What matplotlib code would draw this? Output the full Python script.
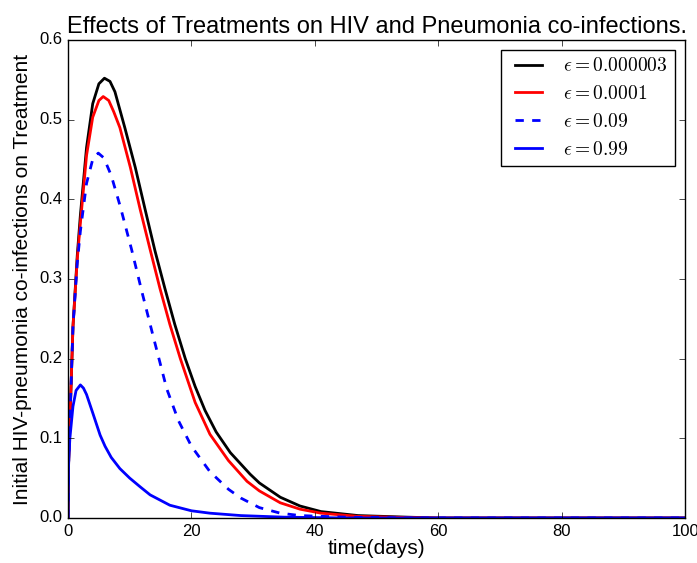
import numpy as np
import matplotlib
matplotlib.use("Agg")
import matplotlib.pyplot as plt

plt.style.use("classic")
plt.rcParams["font.family"] = ["Liberation Sans", "DejaVu Sans"]
plt.rcParams["mathtext.fontset"] = "cm"

# values
t_black = [0, 0.1, 0.3, 0.8, 1.5, 2, 3, 4, 5, 5.9, 6.8, 7.6, 9.2, 10.9, 12.5, 14.1, 15.7,
           17.3, 19, 20.6, 22.2, 24, 26.3, 29.5, 31, 34.4, 37.6, 41, 47, 55, 60, 100]
y_black = [0, 0.07, 0.12, 0.24, 0.33, 0.38, 0.465, 0.52, 0.545, 0.552, 0.548, 0.535, 0.49,
           0.44, 0.387, 0.335, 0.288, 0.243, 0.2, 0.165, 0.135, 0.108, 0.082, 0.055, 0.044,
           0.026, 0.015, 0.008, 0.003, 0.001, 0, 0]

t_red = [0, 0.1, 0.3, 0.8, 1.5, 2, 3, 4, 5, 5.7, 6.6, 7.4, 8.4, 10.1, 11.7, 13.3, 14.9,
         16.5, 18.2, 20.6, 23, 26, 29, 31, 34.4, 37.6, 41, 47, 55, 60, 100]
y_red = [0, 0.07, 0.12, 0.24, 0.325, 0.37, 0.455, 0.503, 0.524, 0.529, 0.524, 0.51, 0.49,
         0.44, 0.387, 0.337, 0.288, 0.243, 0.2, 0.145, 0.105, 0.072, 0.046, 0.034, 0.019,
         0.011, 0.006, 0.002, 0.0005, 0, 0]

t_dash = [0, 0.1, 0.3, 0.8, 1.5, 2, 3, 4, 4.9, 5.8, 7, 8.5, 10.3, 12, 13.8, 16, 17.9, 20,
          23, 26, 28, 31, 34.4, 37.6, 45, 55, 100]
y_dash = [0, 0.07, 0.12, 0.24, 0.32, 0.36, 0.42, 0.45, 0.458, 0.452, 0.43, 0.39, 0.337,
          0.283, 0.228, 0.162, 0.122, 0.09, 0.058, 0.036, 0.025, 0.013, 0.006, 0.003,
          0.001, 0, 0]

t_blue = [0, 0.1, 0.3, 0.8, 1.3, 2, 2.5, 3, 4, 5.2, 6, 7, 8.4, 10, 11.7, 13.3, 16.5, 20,
          23, 28, 35, 45, 100]
y_blue = [0, 0.07, 0.10, 0.14, 0.16, 0.167, 0.163, 0.155, 0.132, 0.104, 0.09, 0.076,
          0.062, 0.05, 0.039, 0.029, 0.016, 0.009, 0.006, 0.003, 0.001, 0, 0]

labels = [r"$\epsilon=0.000003$", r"$\epsilon=0.0001$", r"$\epsilon=0.09$", r"$\epsilon=0.99$"]

fig = plt.figure(figsize=(6.97, 5.63), dpi=100, facecolor="white")
ax = fig.add_axes([0.0976, 0.080, 0.8854, 0.849])

ax.plot(t_black, y_black, color="k", lw=2, label=labels[0])
ax.plot(t_red, y_red, color="r", lw=2, label=labels[1])
ax.plot(t_dash, y_dash, color="b", lw=2, ls="--", label=labels[2])
ax.plot(t_blue, y_blue, color="b", lw=2, label=labels[3])

ax.set_xlim(0, 100)
ax.set_ylim(0, 0.6)
ax.set_xticks([0, 20, 40, 60, 80, 100])
ax.set_yticks([0.0, 0.1, 0.2, 0.3, 0.4, 0.5, 0.6])
ax.tick_params(labelsize=12)
ax.set_title("Effects of Treatments on HIV and Pneumonia co-infections.", fontsize=17)
ax.set_xlabel("time(days)", fontsize=15, labelpad=0)
ax.set_ylabel("Initial HIV-pneumonia co-infections on Treatment", fontsize=15)
ax.legend(loc="upper right", fontsize=14, fancybox=False, handlelength=2)

fig.savefig("out.png", dpi=100, facecolor="white")
